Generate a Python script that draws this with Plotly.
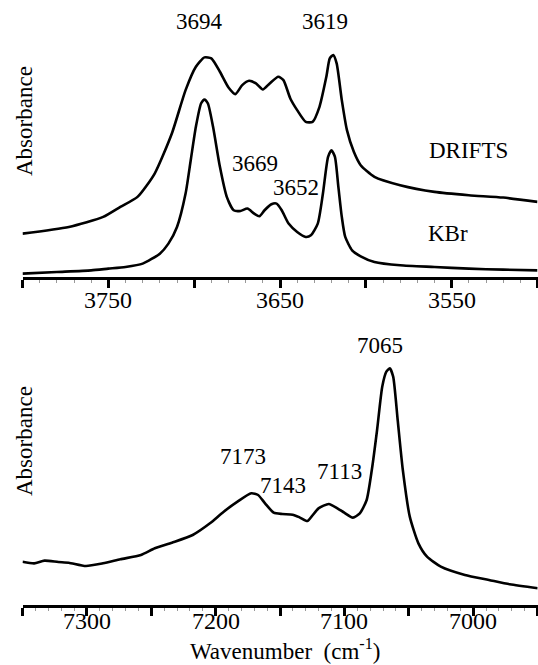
import plotly.graph_objects as go

# ---- Top panel: OH stretching region ----
top_wn = [3800, 3773, 3753, 3743, 3733, 3723, 3713, 3705, 3699, 3694, 3690, 3685, 3680,
          3676, 3672, 3668, 3664, 3660, 3656, 3651, 3648, 3644, 3640, 3635, 3631, 3627,
          3623, 3621, 3619, 3617, 3614, 3611, 3607, 3603, 3595, 3580, 3560, 3540, 3520, 3500]
drifts_abs = [0.130, 0.150, 0.180, 0.210, 0.240, 0.310, 0.430, 0.560, 0.630, 0.658, 0.655,
              0.615, 0.568, 0.548, 0.575, 0.588, 0.580, 0.562, 0.580, 0.600, 0.590, 0.535,
              0.500, 0.465, 0.465, 0.510, 0.600, 0.655, 0.665, 0.640, 0.530, 0.440, 0.375,
              0.335, 0.300, 0.275, 0.255, 0.245, 0.238, 0.225]

kbr_wn = [3800, 3780, 3760, 3750, 3740, 3730, 3720, 3715, 3710, 3705, 3702, 3699, 3696,
          3694, 3692, 3689, 3685, 3681, 3677, 3673, 3669, 3665, 3662, 3659, 3655, 3652,
          3649, 3645, 3640, 3635, 3632, 3628, 3625, 3622, 3620, 3618, 3616, 3614, 3612,
          3608, 3603, 3595, 3580, 3560, 3540, 3520, 3500]
kbr_abs = [0.010, 0.015, 0.020, 0.025, 0.030, 0.040, 0.070, 0.100, 0.150, 0.250, 0.350,
           0.450, 0.520, 0.532, 0.520, 0.450, 0.330, 0.240, 0.200, 0.198, 0.205, 0.190,
           0.182, 0.200, 0.218, 0.220, 0.200, 0.160, 0.135, 0.120, 0.125, 0.160, 0.250,
           0.360, 0.380, 0.360, 0.270, 0.180, 0.120, 0.080, 0.062, 0.045, 0.035, 0.030,
           0.025, 0.022, 0.020]

# ---- Bottom panel: overtone region ----
nir_wn = [7350, 7340.9, 7332.9, 7322.2, 7314.1, 7300.8, 7287.4, 7274.0, 7258.0, 7247.2,
          7233.9, 7217.8, 7204.4, 7193.7, 7183.0, 7172.3, 7167.0, 7161.6, 7154.9, 7148.2,
          7140.2, 7134.8, 7128.7, 7125.5, 7120.1, 7112.1, 7105.4, 7100.1, 7093.4, 7088.0,
          7082.7, 7078.7, 7074.6, 7070.6, 7067.4, 7064.7, 7062.1, 7058.6, 7054.6, 7049.2,
          7042.5, 7035.8, 7025.1, 7006.4, 6987.7, 6971.6, 6949.7]
nir_abs = [0.130, 0.125, 0.133, 0.129, 0.127, 0.117, 0.125, 0.137, 0.150, 0.170, 0.187,
           0.210, 0.245, 0.280, 0.310, 0.335, 0.330, 0.305, 0.277, 0.273, 0.271, 0.263,
           0.252, 0.265, 0.290, 0.303, 0.290, 0.277, 0.262, 0.275, 0.315, 0.405, 0.525,
           0.655, 0.700, 0.710, 0.685, 0.555, 0.405, 0.265, 0.185, 0.145, 0.115, 0.090,
           0.075, 0.062, 0.050]

top_labels = ["3694", "3619", "3669", "3652"]
top_label_x = [3697, 3623.5, 3664.5, 3640.5]
top_label_y = [0.765, 0.765, 0.340, 0.268]
series_labels = ["DRIFTS", "KBr"]
series_label_x = [3540, 3552]
series_label_y = [0.380, 0.130]

bot_labels = ["7173", "7143", "7113", "7065"]
bot_label_x = [7179, 7147.5, 7104, 7072]
bot_label_y = [0.445, 0.360, 0.400, 0.780]

top_ticks = [3750, 3650, 3550]
bot_ticks = [7300, 7200, 7100, 7000]

W, H = 538, 665
FONT = "Times New Roman, Liberation Serif, Tinos, serif"
line = dict(color="black", width=2.6, shape="spline", smoothing=0.6)

fig = go.Figure()
fig.add_trace(go.Scatter(x=top_wn, y=drifts_abs, mode="lines", line=line,
                         xaxis="x", yaxis="y", showlegend=False, hoverinfo="skip"))
fig.add_trace(go.Scatter(x=kbr_wn, y=kbr_abs, mode="lines", line=line,
                         xaxis="x", yaxis="y", showlegend=False, hoverinfo="skip"))
fig.add_trace(go.Scatter(x=nir_wn, y=nir_abs, mode="lines", line=line,
                         xaxis="x2", yaxis="y2", showlegend=False, hoverinfo="skip"))

xdom = [22.5 / W, 537.5 / W]
top_dom = [1 - 277 / H, 1]
bot_dom = [1 - 605 / H, 1 - 320 / H]

def xaxis_cfg(rng, anchor):
    return dict(
        domain=xdom, range=rng, anchor=anchor,
        showline=True, linecolor="black", linewidth=2.6,
        ticks="outside", ticklen=8, tickwidth=2.6, tickcolor="black",
        tickmode="linear", tick0=rng[1], dtick=50,
        showticklabels=False,
        showgrid=False, zeroline=False,
        minor=dict(ticks="outside", ticklen=3, tickwidth=1, tickcolor="#999999",
                   dtick=10, tick0=rng[1], showgrid=False),
    )

fig.update_layout(
    width=W, height=H,
    margin=dict(l=0, r=0, t=0, b=0),
    paper_bgcolor="white", plot_bgcolor="white",
    template="none",
    font=dict(family=FONT, size=23, color="black"),
    xaxis=xaxis_cfg([3800, 3500], "y"),
    yaxis=dict(domain=top_dom, range=[0, 0.83], visible=False, fixedrange=True),
    xaxis2=xaxis_cfg([7350, 6950], "y2"),
    yaxis2=dict(domain=bot_dom, range=[0, 0.855], visible=False, fixedrange=True),
)

annotations = []
# tick labels (at every other major tick)
for t in top_ticks:
    annotations.append(dict(x=t, y=1 - 300 / H, xref="x", yref="paper", text=str(t),
                            showarrow=False, yanchor="middle",
                            font=dict(size=24, family=FONT)))
for t in bot_ticks:
    annotations.append(dict(x=t, y=1 - 621 / H, xref="x2", yref="paper", text=str(t),
                            showarrow=False, yanchor="middle",
                            font=dict(size=24, family=FONT)))
for txt, x, y in zip(top_labels, top_label_x, top_label_y):
    annotations.append(dict(x=x, y=y, xref="x", yref="y", text=txt, showarrow=False,
                            font=dict(size=23, family=FONT)))
for txt, x, y in zip(series_labels, series_label_x, series_label_y):
    annotations.append(dict(x=x, y=y, xref="x", yref="y", text=txt, showarrow=False,
                            font=dict(size=23, family=FONT)))
for txt, x, y in zip(bot_labels, bot_label_x, bot_label_y):
    annotations.append(dict(x=x, y=y, xref="x2", yref="y2", text=txt, showarrow=False,
                            font=dict(size=23, family=FONT)))
# y-axis titles
annotations.append(dict(x=25 / W, y=1 - 121 / H, xref="paper", yref="paper", text="Absorbance",
                        textangle=-90, showarrow=False, xanchor="center", yanchor="middle",
                        font=dict(size=23, family=FONT)))
annotations.append(dict(x=25 / W, y=1 - 441 / H, xref="paper", yref="paper", text="Absorbance",
                        textangle=-90, showarrow=False, xanchor="center", yanchor="middle",
                        font=dict(size=23, family=FONT)))
# x-axis title
annotations.append(dict(x=285 / W, y=1 - 649 / H, xref="paper", yref="paper",
                        text="Wavenumber\u00a0\u00a0(cm<sup>-1</sup>)", showarrow=False,
                        yanchor="middle", font=dict(size=23, family=FONT)))
fig.update_layout(annotations=annotations)

fig.write_html("out.html", config={"displayModeBar": False},
               post_script="document.body.style.margin='0';document.body.style.overflow='hidden';")
